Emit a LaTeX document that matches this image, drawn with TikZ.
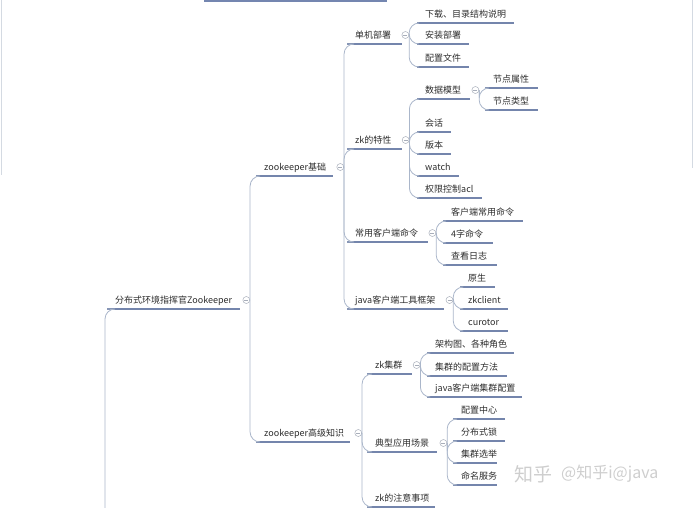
\documentclass[tikz,border=0pt]{standalone}
\usepackage{fontspec}
\setmainfont{Noto Sans CJK SC}
\usepackage{tikz}
\definecolor{topiccolor}{RGB}{45, 45, 45}
\definecolor{ulinecolor}{RGB}{116, 133, 172}
\definecolor{linkcolor}{RGB}{170, 182, 202}
\definecolor{foldcolor}{RGB}{168, 174, 186}
\definecolor{framecolor}{RGB}{212, 218, 226}
\definecolor{markcolor}{RGB}{206, 206, 206}
\definecolor{titlecolor}{RGB}{116, 134, 176}

\begin{document}
\begin{tikzpicture}[
    x=1pt, y=-1pt,
    % Estilos dos topicos
    topic/.style={
        anchor=south west,
        inner xsep=8pt,
        inner ysep=3.5pt,
        text height=7pt,
        text depth=1.5pt,
        font=\fontsize{9}{11}\selectfont,
        text=topiccolor,
        append after command={(\tikzlastnode.south west) edge[uline] ++(#1,0)}
    },
    uline/.style={draw=ulinecolor, line width=1.7pt},
    fold/.style={
        circle,
        draw=foldcolor,
        line width=0.5pt,
        minimum size=7pt,
        inner sep=0pt,
        path picture={\draw[foldcolor, line width=0.5pt]
            ([xshift=-2pt]path picture bounding box.center) --
            ([xshift=2pt]path picture bounding box.center);}
    },
    % Estilos das linhas
    link/.style={draw=linkcolor, line width=0.8pt, rounded corners=10pt},
    frameline/.style={draw=framecolor, line width=0.8pt},
    titlebar/.style={rectangle, fill=titlecolor, draw=none},
    watermark/.style={text=markcolor, inner sep=0pt},
]
\useasboundingbox (0,0) rectangle (700,507);

% ============================================================================
% MOLDURA
% ============================================================================
\node[titlebar, anchor=south west, minimum width=183, minimum height=8] (title) at (204,2) {};
\draw[frameline] (1,0) -- (1,175);
\draw[frameline] (692,0) -- (692,168);

% ============================================================================
% RAIZ
% ============================================================================
\node[topic=133] (root) at (107,309) {分布式环境指挥官Zookeeper};
\node[fold] (froot) at ([shift={(6,-9)}]root.south east) {};
\coordinate (rootup) at (105,515);

% ============================================================================
% NIVEL 1
% ============================================================================
\node[topic=77] (basic) at (256,176) {zookeeper基础};
\node[fold] (fbasic) at ([shift={(6,-9)}]basic.south east) {};

\node[topic=94] (adv) at (256,442) {zookeeper高级知识};
\node[fold] (fadv) at ([shift={(6,-9)}]adv.south east) {};

% ============================================================================
% ZOOKEEPER BASICO
% ============================================================================
\node[topic=55] (single) at (347,44) {单机部署};
\node[fold] (fsingle) at ([shift={(6,-9)}]single.south east) {};
\node[topic=97] (download) at (417,23) {下载、目录结构说明};
\node[topic=52] (install) at (417,44) {安装部署};
\node[topic=52] (conf) at (417,67) {配置文件};

\node[topic=55] (feature) at (347,149) {zk的特性};
\node[fold] (ffeature) at ([shift={(6,-9)}]feature.south east) {};
\node[topic=53] (model) at (417,99) {数据模型};
\node[fold] (fmodel) at ([shift={(6,-9)}]model.south east) {};
\node[topic=53] (nattr) at (485,88) {节点属性};
\node[topic=53] (ntype) at (485,110) {节点类型};
\node[topic=34] (session) at (417,132) {会话};
\node[topic=34] (version) at (417,154) {版本};
\node[topic=42] (watch) at (417,176) {watch};
\node[topic=65] (acl) at (417,198) {权限控制acl};

\node[topic=81] (cmd) at (347,242) {常用客户端命令};
\node[fold] (fcmd) at ([shift={(6,-9)}]cmd.south east) {};
\node[topic=80] (clicmd) at (443,221) {客户端常用命令};
\node[topic=50] (fourcmd) at (443,243) {4字命令};
\node[topic=54] (log) at (443,265) {查看日志};

\node[topic=97] (jtool) at (347,309) {java客户端工具框架};
\node[fold] (fjtool) at ([shift={(6,-9)}]jtool.south east) {};
\node[topic=35] (native) at (460,287) {原生};
\node[topic=48] (zkclient) at (460,309) {zkclient};
\node[topic=48] (curator) at (460,331) {curotor};

% ============================================================================
% ZOOKEEPER AVANCADO
% ============================================================================
\node[topic=45] (cluster) at (367,374) {zk集群};
\node[fold] (fcluster) at ([shift={(6,-9)}]cluster.south east) {};
\node[topic=87] (arch) at (427,353) {架构图、各种角色};
\node[topic=80] (cconf) at (427,376) {集群的配置方法};
\node[topic=95] (jconf) at (427,397) {java客户端集群配置};

\node[topic=70] (usecase) at (367,452) {典型应用场景};
\node[fold] (fusecase) at ([shift={(6,-9)}]usecase.south east) {};
\node[topic=52] (confcenter) at (453,419) {配置中心};
\node[topic=52] (dlock) at (453,441) {分布式锁};
\node[topic=44] (election) at (453,463) {集群选举};
\node[topic=44] (naming) at (453,485) {命名服务};

\node[topic=68] (notice) at (367,507) {zk的注意事项};

% ============================================================================
% LIGACOES
% ============================================================================
\draw[link] (root.south west) -| (rootup);
\draw[link] (froot.east) |- (basic.south west);
\draw[link] (froot.east) |- (adv.south west);

\draw[link] (fbasic.east) |- (single.south west);
\draw[link] (fbasic.east) |- (feature.south west);
\draw[link] (fbasic.east) |- (cmd.south west);
\draw[link] (fbasic.east) |- (jtool.south west);

\draw[link] (fsingle.east) |- (download.south west);
\draw[link] (fsingle.east) |- (install.south west);
\draw[link] (fsingle.east) |- (conf.south west);

\draw[link] (ffeature.east) |- (model.south west);
\draw[link] (ffeature.east) |- (session.south west);
\draw[link] (ffeature.east) |- (version.south west);
\draw[link] (ffeature.east) |- (watch.south west);
\draw[link] (ffeature.east) |- (acl.south west);
\draw[link] (fmodel.east) |- (nattr.south west);
\draw[link] (fmodel.east) |- (ntype.south west);

\draw[link] (fcmd.east) |- (clicmd.south west);
\draw[link] (fcmd.east) |- (fourcmd.south west);
\draw[link] (fcmd.east) |- (log.south west);

\draw[link] (fjtool.east) |- (native.south west);
\draw[link] (fjtool.east) |- (zkclient.south west);
\draw[link] (fjtool.east) |- (curator.south west);

\draw[link] (fadv.east) |- (cluster.south west);
\draw[link] (fadv.east) |- (usecase.south west);
\draw[link] (fadv.east) |- (notice.south west);

\draw[link] (fcluster.east) |- (arch.south west);
\draw[link] (fcluster.east) |- (cconf.south west);
\draw[link] (fcluster.east) |- (jconf.south west);

\draw[link] (fusecase.east) |- (confcenter.south west);
\draw[link] (fusecase.east) |- (dlock.south west);
\draw[link] (fusecase.east) |- (election.south west);
\draw[link] (fusecase.east) |- (naming.south west);

% ============================================================================
% MARCA D'AGUA
% ============================================================================
\node[watermark, font=\fontsize{19}{21}\selectfont] (zhihu) at (533,474) {知乎};
\node[watermark, font=\fontsize{16}{18}\selectfont, anchor=west] (author) at (561,474) {@知乎i@java};

\end{tikzpicture}
\end{document}
